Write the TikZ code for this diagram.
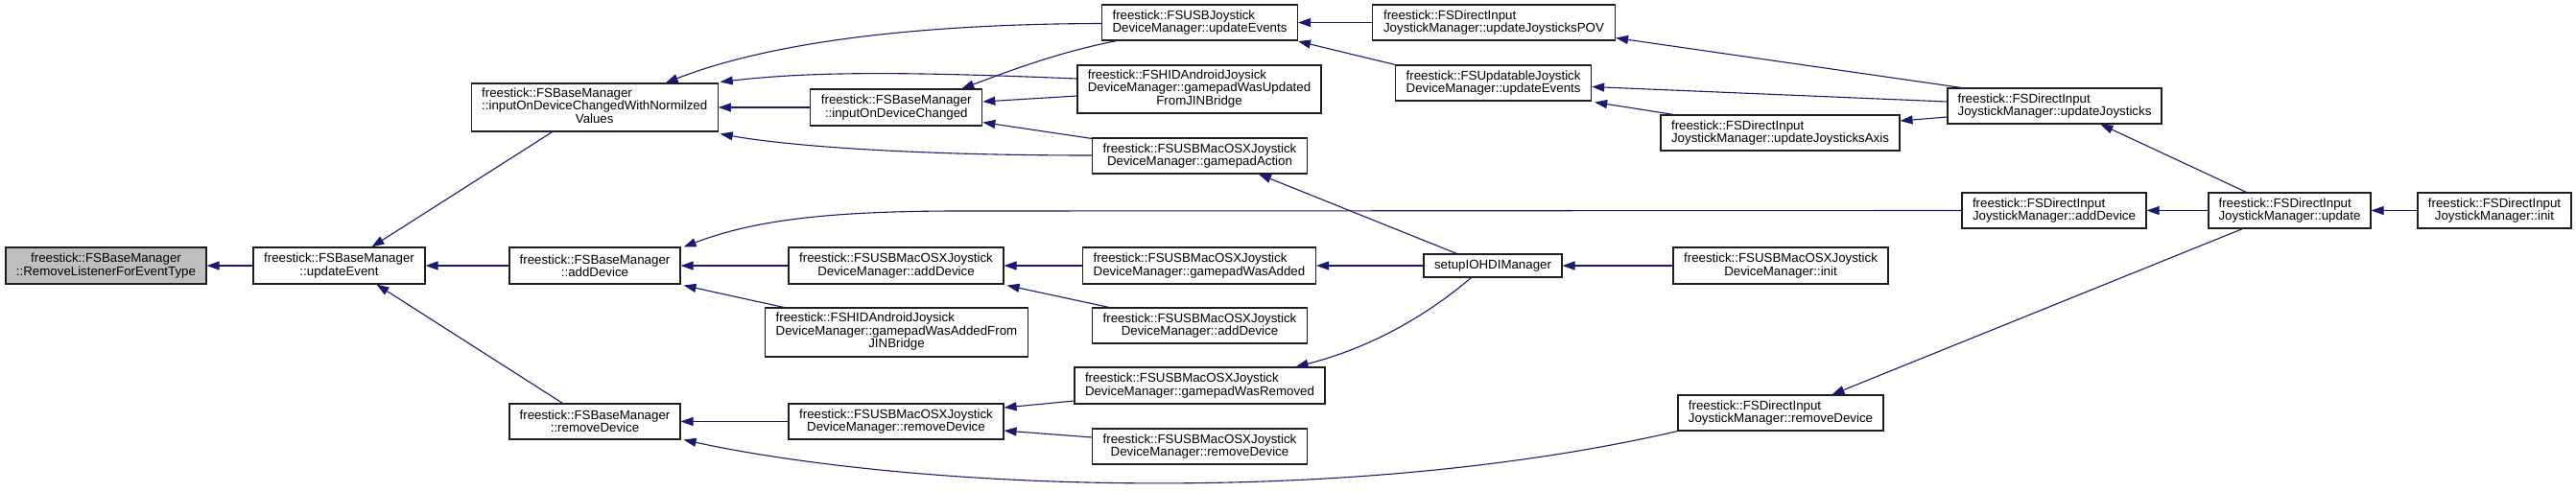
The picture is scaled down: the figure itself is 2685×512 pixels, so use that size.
\documentclass[tikz,border=0pt]{standalone}
\usepackage{fontspec}
\setmainfont{Liberation Sans}
\usetikzlibrary{arrows.meta,calc}
\definecolor{edgecol}{RGB}{25,25,112}
\definecolor{grayfill}{RGB}{191,191,191}
\definecolor{boxline}{RGB}{30,30,30}
\newcommand{\threeline}[3]{\begin{tabular}{@{}l@{}}#1\\#2\\\multicolumn{1}{@{}c@{}}{#3}\end{tabular}}
\tikzset{
  fn/.style={draw=boxline, line width=1.1pt, fill=white, inner sep=0pt, font=\fontsize{13.3}{13.3}\selectfont},
  fnl/.style={fn, align=left},
  fnc/.style={fn, align=center},
  e/.style={draw=edgecol, line width=1.1pt, -{Triangle[length=13pt,width=9pt]}}
}
\begin{document}
\begin{tikzpicture}[x=1pt,y=-1pt]
\useasboundingbox (0,0) rectangle (2685,512);
% nodes
\node[fnc, fill=grayfill, minimum width=209, minimum height=38] (rl) at (110.5,277) {freestick::FSBaseManager\\::RemoveListenerForEventType};
\node[fnc, minimum width=179, minimum height=38] (ue) at (353.5,277) {freestick::FSBaseManager\\::updateEvent};
\node[fn, minimum width=257, minimum height=50] (norm) at (619.7,112) {\threeline{freestick::FSBaseManager}{::inputOnDeviceChangedWithNormilzed}{Values}};
\node[fnc, minimum width=179, minimum height=38] (iodc) at (934.3,112) {freestick::FSBaseManager\\::inputOnDeviceChanged};
\node[fnc, minimum width=178, minimum height=38] (bad) at (620,277) {freestick::FSBaseManager\\::addDevice};
\node[fnc, minimum width=178, minimum height=37] (brm) at (620,439.5) {freestick::FSBaseManager\\::removeDevice};
\node[fnc, minimum width=224, minimum height=38] (uad3) at (934,277) {freestick::FSUSBMacOSXJoystick\\DeviceManager::addDevice};
\node[fn, minimum width=274, minimum height=51] (jin) at (934.5,346.5) {\threeline{freestick::FSHIDAndroidJoysick}{DeviceManager::gamepadWasAddedFrom}{JINBridge}};
\node[fnc, minimum width=224, minimum height=37] (urm3) at (934,439.5) {freestick::FSUSBMacOSXJoystick\\DeviceManager::removeDevice};
\node[fnl, minimum width=204, minimum height=37] (usbue) at (1250.5,23.5) {freestick::FSUSBJoystick\\DeviceManager::updateEvents};
\node[fn, minimum width=254, minimum height=50] (jinu) at (1250,93) {\threeline{freestick::FSHIDAndroidJoysick}{DeviceManager::gamepadWasUpdated}{FromJINBridge}};
\node[fnc, minimum width=224, minimum height=37] (gpa) at (1250.5,162.5) {freestick::FSUSBMacOSXJoystick\\DeviceManager::gamepadAction};
\node[fnl, minimum width=243, minimum height=38] (gpad) at (1250,277) {freestick::FSUSBMacOSXJoystick\\DeviceManager::gamepadWasAdded};
\node[fnc, minimum width=224, minimum height=37] (uad4) at (1250.5,339.5) {freestick::FSUSBMacOSXJoystick\\DeviceManager::addDevice};
\node[fnl, minimum width=261, minimum height=38] (gprm) at (1250.5,402) {freestick::FSUSBMacOSXJoystick\\DeviceManager::gamepadWasRemoved};
\node[fnc, minimum width=224, minimum height=37] (urm4) at (1250.5,465.5) {freestick::FSUSBMacOSXJoystick\\DeviceManager::removeDevice};
\node[fnl, minimum width=253, minimum height=37] (pov) at (1557,23.5) {freestick::FSDirectInput\\JoystickManager::updateJoysticksPOV};
\node[fnl, minimum width=204, minimum height=37] (upd) at (1556.6,86.5) {freestick::FSUpdatableJoystick\\DeviceManager::updateEvents};
\node[fnc, minimum width=144, minimum height=24] (setup) at (1556,277) {setupIOHDIManager};
\node[fnl, minimum width=249, minimum height=37] (axis) at (1855.5,138.5) {freestick::FSDirectInput\\JoystickManager::updateJoysticksAxis};
\node[fnc, minimum width=224, minimum height=38] (uinit) at (1856,277) {freestick::FSUSBMacOSXJoystick\\DeviceManager::init};
\node[fnl, minimum width=214, minimum height=37] (drm) at (1856,430.5) {freestick::FSDirectInput\\JoystickManager::removeDevice};
\node[fnl, minimum width=223, minimum height=37] (ujoy) at (2141.5,110.5) {freestick::FSDirectInput\\JoystickManager::updateJoysticks};
\node[fnl, minimum width=192, minimum height=37] (dad) at (2141,219.5) {freestick::FSDirectInput\\JoystickManager::addDevice};
\node[fnl, minimum width=169, minimum height=37] (upd8) at (2386.5,219.5) {freestick::FSDirectInput\\JoystickManager::update};
\node[fnc, minimum width=160, minimum height=37] (init) at (2600,219.5) {freestick::FSDirectInput\\JoystickManager::init};
% edges
\draw[e] (ue.west) -- (rl.east);
\draw[e] ($(norm.south west)+(85,0)$) -- ($(ue.north west)+(124,0)$);
\draw[e] (bad.west) -- (ue.east);
\draw[e] ($(brm.north west)+(56,0)$) -- ($(ue.south west)+(129,0)$);
\draw[e] ($(usbue.west)+(0,1)$) .. controls (950,25) and (800,45) .. ($(norm.north west)+(203,0)$);
\draw[e] ($(jinu.west)+(0,-11)$) .. controls (950,75) and (850,74) .. ($(norm.north east)+(2,-1)$);
\draw[e] (iodc.west) -- (norm.east);
\draw[e] ($(gpa.west)+(0,-0.5)$) .. controls (950,162) and (820,152) .. ($(norm.south east)+(2,2)$);
\draw[e] ($(usbue.south west)+(16,0)$) .. controls (1100,55) and (1050,75) .. ($(iodc.north west)+(158,0)$);
\draw[e] ($(jinu.west)+(0,7)$) -- ($(iodc.east)+(0,-6)$);
\draw[e] ($(gpa.north west)+(0,1)$) -- ($(iodc.south east)+(0,-4)$);
\draw[e] (dad.west) -- (1000,220) .. controls (850,220) and (780,232) .. ($(bad.north east)+(3,0)$);
\draw[e] (uad3.west) -- (bad.east);
\draw[e] ($(jin.north west)+(20,0)$) -- ($(bad.south east)+(3,1)$);
\draw[e] (urm3.west) -- (brm.east);
\draw[e] (drm.south west) .. controls (1400,530) and (950,510) .. ($(brm.south east)+(3,0)$);
\draw[e] (gpad.west) -- (uad3.east);
\draw[e] ($(uad4.north west)+(18,0)$) -- ($(uad3.south east)+(3,1)$);
\draw[e] ($(gprm.west)+(0,16)$) -- ($(urm3.east)+(0,-14.5)$);
\draw[e] ($(urm4.west)+(0,-9.5)$) -- ($(urm3.east)+(0,9.5)$);
\draw[e] (pov.west) -- (usbue.east);
\draw[e] (upd.north west) -- ($(usbue.south east)+(0,0.5)$);
\draw[e] ($(setup.north west)+(35,0)$) -- ($(gpa.south west)+(174,0)$);
\draw[e] (setup.west) -- (gpad.east);
\draw[e] ($(setup.south west)+(50,0)$) .. controls (1480,335) and (1420,365) .. ($(gprm.north west)+(231,0)$);
\draw[e] ($(ujoy.north west)+(15,0)$) -- ($(pov.south east)+(0,-3)$);
\draw[e] ($(ujoy.west)+(0,-4.5)$) -- ($(upd.east)+(0,4)$);
\draw[e] ($(axis.north west)+(14,0)$) -- ($(upd.south east)+(3,1)$);
\draw[e] ($(ujoy.west)+(0,11.5)$) -- ($(axis.east)+(0,-12.5)$);
\draw[e] ($(upd8.north west)+(40,0)$) -- ($(ujoy.south west)+(160,0)$);
\draw[e] (upd8.west) -- (dad.east);
\draw[e] ($(upd8.south west)+(36,0)$) -- ($(drm.north west)+(161,0)$);
\draw[e] (init.west) -- (upd8.east);
\draw[e] (uinit.west) -- (setup.east);
\end{tikzpicture}
\end{document}
